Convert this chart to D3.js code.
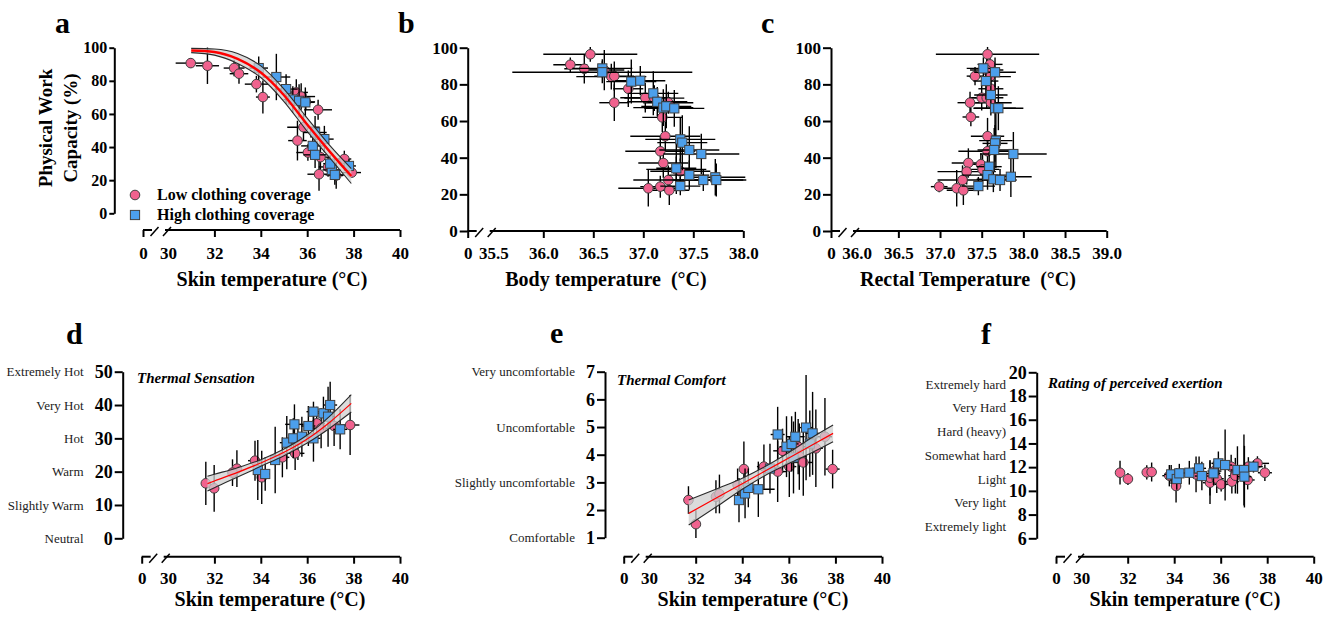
<!DOCTYPE html>
<html>
<head>
<meta charset="utf-8">
<script src="https://cdn.jsdelivr.net/npm/d3@7"></script>
<style>
  body { margin: 0; background: #fff; }
  svg { display: block; }
  text { font-family: "Liberation Serif", "Times New Roman", serif; }
</style>
</head>
<body>
<svg id="chart" width="1333" height="617"></svg>
<script>
// ---- data: each point is [x, y, xErr, yErr] ----
const skinTicks = [0, 30, 32, 34, 36, 38, 40];
const bodyTicks = [0, 35.5, 36, 36.5, 37, 37.5, 38];
const rectalTicks = [0, 36, 36.5, 37, 37.5, 38, 38.5, 39];
const pwcTicks = [0, 20, 40, 60, 80, 100];
const sensationTicks = [0, 10, 20, 30, 40, 50];
const comfortTicks = [1, 2, 3, 4, 5, 6, 7];
const rpeTicks = [6, 8, 10, 12, 14, 16, 18, 20];

const sensationLabelValues = [0, 10, 20, 30, 40, 50];
const sensationLabels = ["Neutral", "Slightly Warm", "Warm", "Hot", "Very Hot", "Extremely Hot"];
const comfortLabelValues = [1, 3, 5, 7];
const comfortLabels = ["Comfortable", "Slightly uncomfortable", "Uncomfortable", "Very uncomfortable"];
const rpeLabelValues = [7, 9, 11, 13, 15, 17, 19];
const rpeLabels = ["Extremely light", "Very light", "Light", "Somewhat hard", "Hard (heavy)", "Very Hard", "Extremely hard"];

const pwcSkinLow = [
  [30.98, 90.7, 0.65, 3], [31.70, 89.1, 0.5, 11], [32.85, 87.7, 0.45, 5], [33.06, 84.3, 0.4, 6],
  [33.81, 78.0, 0.5, 5], [34.09, 70.2, 0.3, 10], [35.53, 73.0, 0.5, 8], [35.74, 70.5, 0.6, 8],
  [35.94, 67.3, 0.4, 5], [36.47, 62.5, 0.6, 6], [35.84, 52.0, 0.7, 8], [35.58, 43.9, 0.4, 12],
  [36.03, 36.7, 0.5, 5], [36.57, 33.9, 0.4, 8], [37.60, 32.8, 0.3, 5], [37.92, 24.6, 0.4, 3],
  [37.25, 22.8, 0.3, 8], [36.51, 23.6, 0.5, 10], [36.90, 28.0, 0.4, 6]
];
const pwcSkinHigh = [
  [33.91, 87.7, 0.4, 7], [34.67, 82.3, 0.6, 14], [35.09, 75.0, 0.5, 9], [35.38, 68.7, 0.4, 8],
  [35.65, 67.9, 0.5, 10], [35.92, 67.0, 0.4, 9], [36.34, 48.8, 0.5, 10], [36.74, 44.8, 0.4, 8],
  [36.24, 40.7, 0.5, 6], [36.34, 35.3, 0.5, 8], [37.06, 26.2, 0.4, 6], [37.80, 28.6, 0.3, 4],
  [37.19, 23.2, 0.4, 6], [36.99, 30.0, 0.3, 5]
];
const pwcBodyLow = [
  [36.47, 96.4, 0.47, 4], [36.27, 90.7, 0.17, 4], [36.41, 88.5, 0.2, 8], [36.61, 87.8, 0.2, 11],
  [36.68, 84.2, 0.35, 7], [36.71, 84.5, 0.2, 8], [36.85, 77.6, 0.15, 10], [37.02, 72.7, 0.25, 8],
  [37.11, 72.5, 0.3, 7], [37.25, 70.0, 0.25, 6], [36.71, 70.0, 0.15, 10], [37.19, 62.0, 0.2, 8],
  [37.22, 51.7, 0.35, 8], [37.17, 43.5, 0.35, 8], [37.20, 37.1, 0.25, 8], [37.33, 33.6, 0.3, 7],
  [37.37, 32.6, 0.3, 7], [37.25, 27.8, 0.35, 8], [37.05, 23.3, 0.3, 10], [37.17, 24.2, 0.2, 6],
  [37.26, 22.2, 0.2, 8]
];
const pwcBodyHigh = [
  [36.59, 88.7, 0.3, 5], [36.59, 86.6, 0.9, 6], [36.88, 81.5, 0.25, 12], [36.97, 82.0, 0.25, 8],
  [37.10, 75.1, 0.25, 12], [37.14, 70.5, 0.3, 8], [37.20, 67.3, 0.3, 10], [37.23, 68.0, 0.25, 12],
  [37.31, 66.9, 0.3, 10], [37.37, 50.0, 0.35, 12], [37.39, 48.2, 0.25, 15], [37.46, 44.2, 0.3, 13],
  [37.58, 42.0, 0.38, 11], [37.33, 34.2, 0.2, 14], [37.46, 30.5, 0.2, 8], [37.60, 27.8, 0.4, 6],
  [37.72, 29.3, 0.3, 10], [37.73, 27.8, 0.3, 9], [37.37, 24.5, 0.2, 5]
];
const pwcRectalLow = [
  [37.57, 96.4, 0.62, 4], [37.60, 90.9, 0.15, 5], [37.56, 87.8, 0.2, 6], [37.60, 84.2, 0.25, 6],
  [37.42, 84.5, 0.1, 5], [37.61, 77.6, 0.15, 7], [37.50, 72.7, 0.15, 7], [37.56, 72.7, 0.2, 6],
  [37.61, 70.0, 0.25, 7], [37.36, 70.0, 0.15, 6], [37.37, 62.2, 0.1, 5], [37.57, 51.7, 0.2, 10],
  [37.57, 43.5, 0.35, 10], [37.34, 37.1, 0.2, 8], [37.49, 36.4, 0.15, 6], [37.51, 33.6, 0.2, 8],
  [37.32, 32.4, 0.35, 7], [37.27, 27.8, 0.3, 8], [36.99, 24.2, 0.1, 3], [37.20, 23.3, 0.25, 10],
  [37.28, 22.2, 0.2, 8]
];
const pwcRectalHigh = [
  [37.52, 88.7, 0.2, 6], [37.66, 86.6, 0.25, 8], [37.55, 81.8, 0.15, 10], [37.61, 74.2, 0.2, 10],
  [37.66, 67.0, 0.25, 15], [37.70, 67.0, 0.3, 12], [37.67, 49.3, 0.2, 15], [37.66, 47.8, 0.15, 10],
  [37.65, 44.2, 0.2, 12], [37.88, 42.0, 0.4, 12], [37.59, 35.1, 0.15, 8], [37.57, 30.5, 0.3, 8],
  [37.64, 28.2, 0.2, 7], [37.72, 27.8, 0.2, 6], [37.85, 29.6, 0.25, 11], [37.46, 24.5, 0.2, 5]
];
const sensationLow = [
  [31.63, 16.5, 0.1, 6.5], [31.99, 15.0, 0.1, 7], [32.97, 20.9, 0.15, 5.5], [33.75, 23.3, 0.3, 6],
  [34.04, 18.3, 0.1, 8], [34.93, 24.3, 0.3, 6], [35.48, 25.5, 0.4, 5], [35.60, 29.5, 0.3, 6],
  [36.41, 34.5, 0.35, 5], [36.60, 33.0, 0.4, 6], [37.16, 33.7, 0.3, 6], [37.85, 34.0, 0.4, 9],
  [32.78, 19.7, 0.2, 4]
];
const sensationHigh = [
  [33.87, 20.5, 0.2, 9], [34.19, 19.3, 0.2, 5], [34.62, 23.5, 0.2, 10], [35.12, 28.7, 0.3, 8],
  [35.45, 34.2, 0.4, 6], [35.40, 30.0, 0.3, 6], [35.77, 30.5, 0.5, 6], [36.05, 33.7, 0.3, 6],
  [36.27, 38.0, 0.3, 3], [36.27, 30.0, 0.3, 7], [36.70, 37.5, 0.4, 5], [36.99, 40.0, 0.3, 7],
  [36.90, 36.5, 0.3, 9], [37.42, 32.7, 0.3, 6]
];
const comfortLow = [
  [31.69, 2.36, 0.1, 0.5], [32.01, 1.49, 0.1, 0.5], [32.87, 2.48, 0.15, 0.6], [33.02, 2.58, 0.15, 0.7],
  [33.80, 2.90, 0.2, 0.6], [34.07, 3.48, 0.15, 1.0], [34.93, 3.57, 0.3, 0.8], [35.52, 3.39, 0.4, 1.1],
  [35.73, 4.14, 0.4, 0.8], [36.02, 3.57, 0.3, 1.1], [36.45, 3.93, 0.3, 1.2], [36.62, 3.72, 0.4, 1.2],
  [37.16, 4.23, 0.3, 1.4], [37.55, 4.65, 0.3, 1.4], [37.88, 3.48, 0.3, 0.7], [36.40, 4.29, 0.3, 1.0]
];
const comfortHigh = [
  [33.86, 2.36, 0.15, 0.8], [34.12, 2.60, 0.15, 0.9], [34.26, 2.80, 0.2, 0.7], [34.69, 2.75, 0.7, 1.0],
  [35.52, 4.73, 0.3, 1.0], [35.19, 3.50, 0.3, 0.9], [35.90, 4.29, 0.3, 1.1], [36.12, 4.39, 0.3, 1.0],
  [36.28, 4.65, 0.4, 0.9], [36.74, 4.98, 0.3, 1.9], [37.02, 4.77, 0.3, 1.5], [36.20, 3.90, 0.3, 1.3],
  [36.90, 4.40, 0.3, 1.2]
];
const rpeLow = [
  [31.67, 11.53, 0.1, 1.0], [32.01, 11.0, 0.1, 0.5], [32.82, 11.56, 0.15, 0.6], [33.03, 11.59, 0.15, 0.8],
  [33.79, 11.28, 0.3, 0.9], [34.08, 10.41, 0.2, 1.4], [34.94, 11.39, 0.3, 1.5], [35.54, 10.69, 0.3, 1.8],
  [35.54, 11.11, 0.3, 1.5], [35.73, 11.67, 0.3, 1.0], [35.83, 11.03, 0.3, 1.2], [36.02, 10.55, 0.3, 0.6],
  [36.45, 12.04, 0.3, 1.0], [36.48, 10.78, 0.3, 1.0], [36.63, 11.28, 0.3, 1.5], [37.19, 12.04, 0.3, 0.8],
  [37.16, 10.92, 0.3, 0.8], [37.58, 12.32, 0.5, 0.6], [37.90, 11.53, 0.3, 0.7]
];
const rpeHigh = [
  [33.87, 11.39, 0.3, 0.8], [34.11, 11.00, 0.2, 0.9], [34.22, 11.48, 0.3, 0.8], [34.65, 11.53, 0.4, 1.0],
  [35.07, 11.90, 0.3, 1.0], [35.19, 11.25, 0.3, 1.2], [35.90, 12.32, 0.3, 1.0], [36.19, 12.18, 0.3, 3.0],
  [36.72, 11.76, 0.3, 2.0], [37.00, 11.76, 0.3, 3.0], [37.02, 11.20, 0.3, 2.6], [37.41, 12.04, 0.4, 0.5],
  [35.69, 11.48, 0.3, 1.0]
];

// fitted curves with confidence bands
const pwcFitX = [31, 32, 33, 34, 35, 36, 37, 37.9];
const pwcFitY = [98.3, 97.4, 93.2, 85, 71.3, 53.6, 36.8, 22.5];
const pwcFitHi = [99.6, 99.2, 96.5, 89, 75, 57.5, 40.5, 27];
const pwcFitLo = [97, 95.5, 90.5, 82, 67.5, 49.5, 33, 18];
const sensationFitX = [31.7, 32, 33, 34, 35, 36, 37, 37.9];
const sensationFitY = [16.4, 17.2, 19.8, 22.6, 25.8, 29.8, 35, 40.5];
const sensationFitHi = [18.6, 19.2, 21.2, 23.6, 26.8, 31.0, 36.8, 43.1];
const sensationFitLo = [14.2, 15.2, 18.4, 21.6, 24.8, 28.6, 33.2, 37.9];
const comfortFitX = [31.7, 33, 34, 35, 36, 37, 37.9];
const comfortFitY = [1.88, 2.49, 2.95, 3.42, 3.88, 4.35, 4.77];
const comfortFitHi = [2.36, 2.80, 3.15, 3.58, 4.08, 4.62, 5.07];
const comfortFitLo = [1.46, 2.18, 2.75, 3.26, 3.68, 4.08, 4.47];

// ---- drawing ----
const PINK = "#f0628e", BLUE = "#4c9fec";
const svg = d3.select("#chart");
svg.append("rect").attr("width", 1333).attr("height", 617).attr("fill", "#fff");

const fmtInt = d => d3.format("d")(d);
const fmtOne = d => d === 0 ? "0" : d3.format(".1f")(d);

function drawPanel(p) {
  const g = svg.append("g");
  const x = d3.scaleLinear().domain(p.xDomain).range(p.xRange);
  const y = d3.scaleLinear().domain(p.yDomain).range(p.yRange);

  // y axis
  const ya = g.append("g")
    .attr("transform", `translate(${p.yAxisX},0)`)
    .call(d3.axisLeft(y).tickValues(p.yTicks).tickSize(p.yTickLen).tickSizeOuter(0)
      .tickPadding(p.yPad).tickFormat(fmtInt));
  ya.select(".domain").attr("stroke-width", 2);
  ya.selectAll(".tick line").attr("stroke-width", 2);
  ya.selectAll(".tick text").attr("font-size", p.yFont).attr("font-weight", "bold").attr("fill", "#000");

  // x axis with a break
  const xa = g.append("g")
    .attr("transform", `translate(0,${p.xAxisY})`)
    .call(d3.axisBottom(x).tickValues(p.xTicks).tickSize(7).tickPadding(p.xPad).tickFormat(p.xFormat));
  xa.select(".domain").remove();
  xa.selectAll(".tick").filter(d => d === p.xDomain[1]).select("line").remove();
  xa.selectAll(".tick line").attr("stroke-width", 2);
  xa.selectAll(".tick text").attr("font-size", 17).attr("font-weight", "bold").attr("fill", "#000");
  const x0 = p.xRange[0], x1 = p.xRange[2];
  xa.append("line").attr("x1", x0).attr("x2", x0 + 9).attr("stroke", "#000").attr("stroke-width", 2);
  xa.append("line").attr("x1", x0 + 22).attr("x2", x1).attr("stroke", "#000").attr("stroke-width", 2);
  [x0 + 11.5, x0 + 24].forEach(cx => {
    xa.append("line").attr("x1", cx - 4).attr("y1", 6).attr("x2", cx + 4).attr("y2", -3)
      .attr("stroke", "#000").attr("stroke-width", 1.5);
  });

  // points
  const drawSet = (data, color, shape) => {
    const eg = g.append("g").attr("stroke", "#000").attr("stroke-width", 1.4);
    eg.selectAll("line.h").data(data).join("line").attr("class", "h")
      .attr("x1", d => x(d[0] - d[2])).attr("x2", d => x(d[0] + d[2]))
      .attr("y1", d => y(d[1])).attr("y2", d => y(d[1]));
    eg.selectAll("line.v").data(data).join("line").attr("class", "v")
      .attr("x1", d => x(d[0])).attr("x2", d => x(d[0]))
      .attr("y1", d => y(d[1] - d[3])).attr("y2", d => y(d[1] + d[3]));
    const mg = g.append("g").attr("fill", color).attr("stroke", "#404040").attr("stroke-width", 1);
    if (shape === "circle") {
      mg.selectAll("circle").data(data).join("circle")
        .attr("cx", d => x(d[0])).attr("cy", d => y(d[1])).attr("r", 4.8);
    } else {
      mg.selectAll("rect").data(data).join("rect")
        .attr("x", d => x(d[0]) - 4.6).attr("y", d => y(d[1]) - 4.6)
        .attr("width", 9.2).attr("height", 9.2);
    }
  };
  drawSet(p.low, PINK, "circle");
  drawSet(p.high, BLUE, "square");

  // fitted curve with band
  if (p.fit) {
    const f = p.fit;
    const rows = f.x.map((v, i) => ({ x: v, y: f.y[i], lo: f.lo[i], hi: f.hi[i] }));
    const curve = d3.curveMonotoneX;
    g.append("path").datum(rows)
      .attr("d", d3.area().x(d => x(d.x)).y0(d => y(d.lo)).y1(d => y(d.hi)).curve(curve))
      .attr("fill", "#cfcfcf").attr("fill-opacity", 0.75);
    ["lo", "hi"].forEach(k => {
      g.append("path").datum(rows)
        .attr("d", d3.line().x(d => x(d.x)).y(d => y(d[k])).curve(curve))
        .attr("fill", "none").attr("stroke", "#2a2a2a").attr("stroke-width", 1.1);
    });
    g.append("path").datum(rows)
      .attr("d", d3.line().x(d => x(d.x)).y(d => y(d.y)).curve(curve))
      .attr("fill", "none").attr("stroke", "#ff0000").attr("stroke-width", f.width);
  }

  // category labels
  if (p.cats) {
    g.selectAll("text.cat").data(p.cats.values).join("text").attr("class", "cat")
      .attr("x", p.cats.x).attr("y", d => y(d)).attr("dy", "0.35em")
      .attr("text-anchor", "end").attr("font-size", 13).attr("fill", "#222")
      .text((d, i) => p.cats.labels[i]);
  }

  // panel letter, axis title, note
  g.append("text").attr("x", p.letter[0]).attr("y", p.letter[1])
    .attr("font-size", 30).attr("font-weight", "bold").text(p.letter[2]);
  g.append("text").attr("x", p.xTitle[0]).attr("y", p.xTitle[1])
    .attr("text-anchor", "middle").attr("font-size", 20).attr("font-weight", "bold")
    .style("white-space", "pre").text(p.xTitle[2]);
  if (p.note) {
    g.append("text").attr("x", p.note[0]).attr("y", p.note[1])
      .attr("font-size", 15).attr("font-weight", "bold").attr("font-style", "italic")
      .text(p.note[2]);
  }
  return { x, y, g };
}

drawPanel({
  xDomain: [0, 30, 40], xRange: [143, 168, 400], xTicks: skinTicks, xFormat: fmtInt, xAxisY: 230, xPad: 10,
  yDomain: [0, 100], yRange: [213.3, 47.7], yTicks: pwcTicks, yAxisX: 114.3, yTickLen: 5, yPad: 2, yFont: 16,
  low: pwcSkinLow, high: pwcSkinHigh,
  fit: { x: pwcFitX, y: pwcFitY, lo: pwcFitLo, hi: pwcFitHi, width: 2.4 },
  letter: [55, 33, "a"], xTitle: [272, 286, "Skin temperature (°C)"]
});
drawPanel({
  xDomain: [0, 35.5, 38], xRange: [467.7, 493.3, 743.3], xTicks: bodyTicks, xFormat: fmtOne, xAxisY: 231, xPad: 9,
  yDomain: [0, 100], yRange: [231, 47.7], yTicks: pwcTicks, yAxisX: 467.7, yTickLen: 8, yPad: 2, yFont: 17,
  low: pwcBodyLow, high: pwcBodyHigh,
  letter: [398, 33, "b"], xTitle: [606, 286, "Body temperature  (°C)"]
});
drawPanel({
  xDomain: [0, 36, 39], xRange: [831, 856.7, 1106.7], xTicks: rectalTicks, xFormat: fmtOne, xAxisY: 231, xPad: 9,
  yDomain: [0, 100], yRange: [231, 47.7], yTicks: pwcTicks, yAxisX: 831, yTickLen: 8, yPad: 2, yFont: 17,
  low: pwcRectalLow, high: pwcRectalHigh,
  letter: [761, 33, "c"], xTitle: [968, 286, "Rectal Temperature  (°C)"]
});
drawPanel({
  xDomain: [0, 30, 40], xRange: [141.7, 168, 400], xTicks: skinTicks, xFormat: fmtInt, xAxisY: 556.7, xPad: 8,
  yDomain: [0, 50], yRange: [538.3, 371.7], yTicks: sensationTicks, yAxisX: 122.7, yTickLen: 8, yPad: 2, yFont: 18,
  low: sensationLow, high: sensationHigh,
  fit: { x: sensationFitX, y: sensationFitY, lo: sensationFitLo, hi: sensationFitHi, width: 1.2 },
  cats: { x: 83.5, values: sensationLabelValues, labels: sensationLabels },
  letter: [66, 344, "d"], xTitle: [270, 606, "Skin temperature (°C)"],
  note: [137, 383, "Thermal Sensation"]
});
drawPanel({
  xDomain: [0, 30, 40], xRange: [623.7, 649.1, 882], xTicks: skinTicks, xFormat: fmtInt, xAxisY: 556.7, xPad: 8,
  yDomain: [1, 7], yRange: [537.7, 371.7], yTicks: comfortTicks, yAxisX: 605, yTickLen: 8, yPad: 2, yFont: 18,
  low: comfortLow, high: comfortHigh,
  fit: { x: comfortFitX, y: comfortFitY, lo: comfortFitLo, hi: comfortFitHi, width: 1.2 },
  cats: { x: 575, values: comfortLabelValues, labels: comfortLabels },
  letter: [550, 343, "e"], xTitle: [753, 606, "Skin temperature (°C)"],
  note: [617, 385, "Thermal Comfort"]
});
drawPanel({
  xDomain: [0, 30, 40], xRange: [1056, 1081.2, 1313.7], xTicks: skinTicks, xFormat: fmtInt, xAxisY: 556.7, xPad: 8,
  yDomain: [6, 20], yRange: [538.3, 372.3], yTicks: rpeTicks, yAxisX: 1036.7, yTickLen: 8, yPad: 2, yFont: 18,
  low: rpeLow, high: rpeHigh,
  cats: { x: 1006, values: rpeLabelValues, labels: rpeLabels },
  letter: [981, 344, "f"], xTitle: [1185, 606, "Skin temperature (°C)"],
  note: [1048, 388, "Rating of perceived exertion"]
});

// y title and legend of panel a
const yTitle = svg.append("g").attr("font-size", 19).attr("font-weight", "bold").attr("text-anchor", "middle");
yTitle.append("text").attr("transform", "translate(52,128) rotate(-90)").text("Physical Work");
yTitle.append("text").attr("transform", "translate(77,128) rotate(-90)").text("Capacity (%)");

const legend = svg.append("g").attr("font-size", 16).attr("font-weight", "bold");
legend.append("circle").attr("cx", 135).attr("cy", 195).attr("r", 4.8)
  .attr("fill", PINK).attr("stroke", "#404040");
legend.append("text").attr("x", 157).attr("y", 200).text("Low clothing coverage");
legend.append("rect").attr("x", 130.4).attr("y", 210.4).attr("width", 9.2).attr("height", 9.2)
  .attr("fill", BLUE).attr("stroke", "#404040");
legend.append("text").attr("x", 157).attr("y", 220).text("High clothing coverage");
</script>
</body>
</html>
